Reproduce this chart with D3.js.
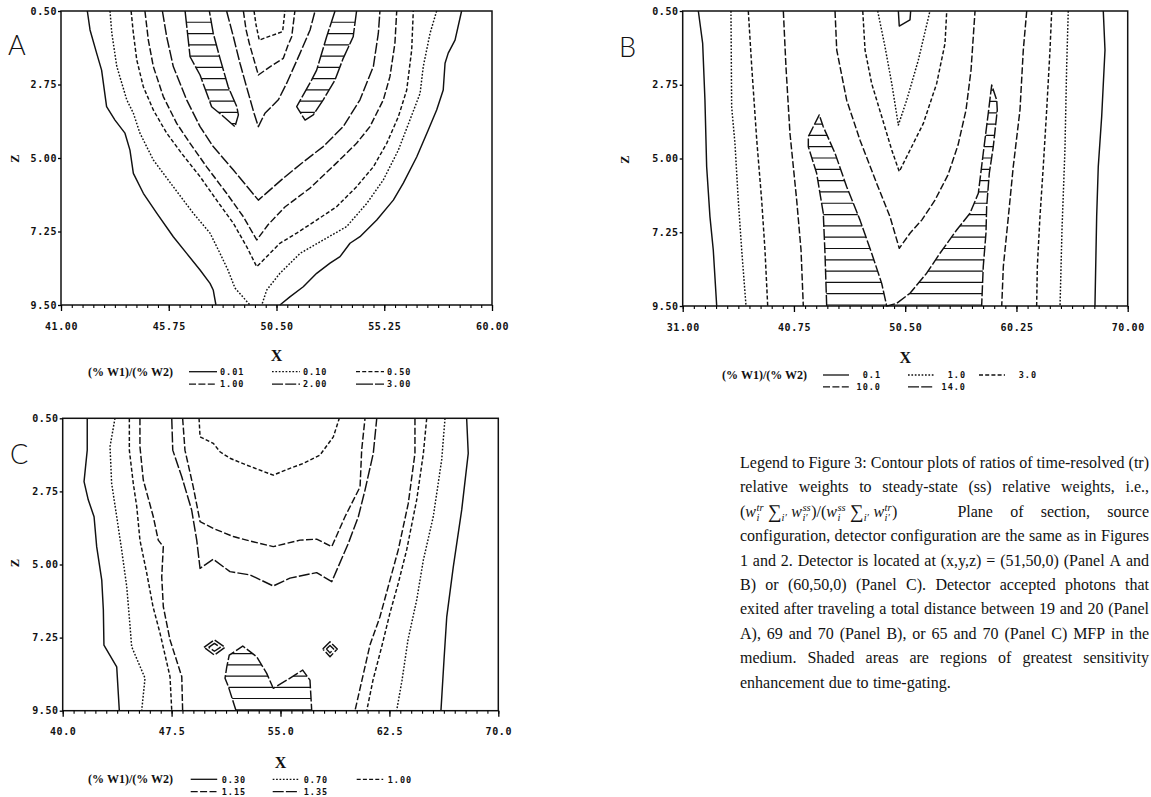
<!DOCTYPE html>
<html>
<head>
<meta charset="utf-8">
<title>Figure 3 - contour plots</title>
<script src="https://cdn.jsdelivr.net/npm/d3@7/dist/d3.min.js"></script>
<style>
  html, body { margin: 0; padding: 0; background: #fff; }
  svg { display: block; }
</style>
</head>
<body>
<svg id="fig" width="1151" height="797"></svg>
<script>
'use strict';

/* ── Tick values ──────────────────────────────────────────── */
const Z_TICKS   = [0.50, 2.75, 5.00, 7.25, 9.50];
const A_X_TICKS = [41.00, 45.75, 50.50, 55.25, 60.00];
const B_X_TICKS = [31.00, 40.75, 50.50, 60.25, 70.00];
const C_X_TICKS = [40.0, 47.5, 55.0, 62.5, 70.0];

/* ── Contour levels (legend order) ────────────────────────── */
const A_LEVELS = ['0.01', '0.10', '0.50', '1.00', '2.00', '3.00'];
const B_LEVELS = ['0.1', '1.0', '3.0', '10.0', '14.0'];
const C_LEVELS = ['0.30', '0.70', '1.00', '1.15', '1.35'];

/* ── Panel A contours, points are [x, z] ──────────────────── */
const A_CONTOURS = [
  { level: '0.01', pts: [[42.16,0.5],[42.28,1.08],[42.57,1.79],[42.79,2.31],[43.01,3.43],[43.38,3.84],[43.82,4.24],[44.04,4.76],[44.19,5.47],[44.63,6.08],[45.22,6.69],[45.95,7.41],[46.54,7.92],[47.13,8.43],[47.57,8.84],[47.71,9.04],[47.83,9.5]] },
  { level: '0.01', pts: [[58.66,0.5],[58.37,1.39],[58.07,1.79],[57.93,2.10],[57.85,2.92],[57.56,3.53],[57.19,4.14],[56.68,4.97],[56.09,5.77],[55.65,6.29],[54.92,6.90],[54.18,7.41],[53.74,7.61],[53.30,8.02],[52.86,8.22],[52.27,8.53],[51.68,8.94],[51.09,9.25],[50.65,9.5]] },
  { level: '0.10', pts: [[43.16,0.5],[43.24,1.18],[43.46,2.20],[43.90,3.22],[44.19,3.63],[44.48,4.24],[45.07,5.06],[45.95,5.88],[46.83,6.69],[47.57,7.30],[48.01,7.92],[48.36,8.43],[48.67,8.98],[49.33,9.5]] },
  { level: '0.10', pts: [[57.56,0.5],[57.27,1.18],[56.97,2.20],[56.83,3.02],[56.38,3.84],[55.87,4.76],[55.21,5.67],[54.48,6.39],[53.59,7.10],[52.56,7.51],[51.54,7.92],[50.65,8.53],[50.07,9.04],[49.85,9.5]] },
  { level: '0.50', pts: [[44.09,0.5],[44.19,1.18],[44.34,2.00],[44.63,2.82],[45.07,3.53],[45.66,4.24],[46.32,4.86],[47.13,5.57],[47.86,6.29],[48.60,7.00],[49.19,7.72],[49.63,8.33],[50.65,7.61],[51.39,7.30],[52.27,6.90],[53.15,6.49],[54.03,5.88],[54.77,5.27],[55.36,4.55],[55.87,3.74],[56.24,2.92],[56.46,1.69],[56.53,0.5]] },
  { level: '1.00', pts: [[44.70,0.5],[44.85,1.39],[45.07,2.20],[45.51,3.12],[46.10,3.94],[46.69,4.55],[47.42,5.27],[48.30,6.08],[49.04,6.80],[49.63,7.51],[50.12,7.05],[50.87,6.50],[51.98,5.92],[53.15,5.15],[54.03,4.55],[54.62,4.04],[55.21,3.22],[55.50,2.51],[55.72,1.49],[55.80,0.5]] },
  { level: '2.00', pts: [[45.47,0.5],[45.66,1.29],[45.95,2.20],[46.54,3.22],[47.13,4.04],[47.71,4.65],[48.60,5.37],[49.33,5.98],[49.70,6.29],[50.80,5.62],[51.61,5.16],[52.56,4.65],[53.44,4.04],[54.18,3.22],[54.77,2.20],[54.99,1.18],[55.06,0.5]] },
  { level: '2.00', pts: [[48.30,0.5],[48.60,1.29],[48.89,2.10],[49.26,3.02],[49.51,3.63],[49.70,4.04],[49.99,3.63],[50.58,3.22],[50.95,2.71],[51.54,1.79],[51.98,1.08],[52.20,0.5]] },
  { level: '1.00', pts: [[49.04,0.5],[49.16,1.08],[49.30,1.49],[49.51,2.00],[49.70,2.46],[50.21,2.21],[50.80,1.95],[51.01,1.54],[51.17,1.29],[51.31,0.5]] },
  { level: '0.50', pts: [[49.51,0.5],[49.60,0.93],[49.74,1.39],[50.21,1.27],[50.77,1.13],[50.87,0.5]] }
];
const A_SHADED = [
  [[46.47,0.5],[46.69,1.90],[47.13,2.46],[47.64,3.43],[48.08,3.68],[48.67,4.04],[48.82,3.68],[48.75,3.43],[48.37,2.82],[48.01,1.95],[47.71,1.18],[47.54,0.5]],
  [[53.08,0.5],[52.71,1.29],[52.27,2.31],[52.05,2.61],[51.39,3.43],[51.76,3.84],[52.12,3.68],[52.56,3.22],[53.08,2.61],[53.44,1.95],[53.88,1.29],[54.03,0.5]]
];

/* ── Panel B contours ─────────────────────────────────────── */
const B_CONTOURS = [
  { level: '0.1',  pts: [[32.37,0.5],[32.75,1.49],[32.95,3.22],[33.10,5.25],[33.39,6.78],[33.68,7.79],[33.98,9.5]] },
  { level: '1.0',  pts: [[35.23,0.5],[35.29,3.42],[35.58,4.54],[35.87,6.27],[36.17,7.79],[36.55,9.5]] },
  { level: '3.0',  pts: [[36.75,0.5],[37.05,2.20],[37.49,4.44],[37.92,6.27],[38.21,7.79],[38.45,9.5]] },
  { level: '10.0', pts: [[39.82,0.5],[40.05,2.20],[40.40,4.23],[40.99,6.27],[41.37,7.79],[41.57,9.5]] },
  { level: '10.0', pts: [[44.35,0.5],[44.50,1.69],[45.37,3.22],[46.54,4.44],[48.00,5.76],[49.17,6.78],[49.98,7.74],[50.92,7.28],[51.95,6.88],[53.11,6.27],[54.25,5.50],[55.13,4.59],[55.83,3.52],[56.27,2.30],[56.62,0.5]] },
  { level: '3.0',  pts: [[46.78,0.5],[46.98,1.69],[47.56,2.71],[48.44,3.72],[49.32,4.74],[49.98,5.40],[51.07,4.64],[52.09,3.93],[53.26,2.71],[53.99,1.49],[54.14,0.5]] },
  { level: '1.0',  pts: [[48.09,0.5],[48.73,1.59],[49.32,2.71],[49.90,3.98],[50.63,3.22],[51.65,2.00],[52.67,0.5]] },
  { level: '0.1',  pts: [[49.90,0.5],[49.98,0.96],[50.92,0.77],[50.98,0.5]] },
  { level: '10.0', pts: [[61.15,0.5],[60.85,1.69],[60.56,3.52],[59.97,5.25],[59.54,6.78],[59.10,8.30],[58.96,9.5]] },
  { level: '3.0',  pts: [[63.34,0.5],[63.19,1.69],[62.90,3.52],[62.60,5.25],[62.31,6.78],[62.08,8.30],[62.02,9.5]] },
  { level: '1.0',  pts: [[64.79,0.5],[64.65,2.20],[64.50,4.73],[64.24,7.18],[64.07,9.5]] },
  { level: '0.1',  pts: [[67.86,0.5],[68.01,1.69],[67.72,3.72],[67.42,5.25],[67.28,6.78],[67.13,9.5]] }
];
const B_SHADED = [
  [[43.62,9.5],[43.47,7.89],[43.32,6.67],[42.74,5.45],[42.01,4.64],[42.01,4.33],[42.97,3.67],[43.32,4.03],[44.35,4.84],[45.37,5.86],[46.54,6.88],[47.56,7.89],[48.44,8.81],[48.88,9.5],[49.75,9.42],[50.92,9.11],[52.38,8.50],[53.55,7.89],[55.01,7.18],[56.18,6.67],[56.91,6.06],[57.34,4.84],[57.78,3.62],[58.08,2.76],[58.52,3.22],[58.57,3.52],[58.22,4.64],[57.87,5.45],[57.64,6.47],[57.58,7.27],[57.34,8.30],[57.20,9.5]]
];

/* ── Panel C contours ─────────────────────────────────────── */
const C_CONTOURS = [
  { level: '0.30', pts: [[41.69,0.5],[41.69,1.48],[41.47,2.45],[41.76,3.01],[42.16,3.53],[42.34,4.45],[42.69,5.48],[42.80,6.40],[42.84,7.48],[43.72,8.15],[43.90,9.5]] },
  { level: '0.70', pts: [[43.60,0.5],[43.26,1.37],[43.37,2.50],[43.72,3.53],[44.06,4.55],[44.41,5.68],[44.64,6.91],[44.75,7.53],[45.67,8.50],[45.44,9.5]] },
  { level: '1.00', pts: [[44.59,0.5],[44.59,1.48],[44.86,2.50],[45.10,3.22],[45.32,4.25],[45.79,5.27],[46.22,6.30],[46.70,7.11],[47.39,8.45],[47.51,9.5]] },
  { level: '1.15', pts: [[45.32,0.5],[45.32,1.37],[45.55,2.40],[46.24,3.53],[46.58,4.25],[46.93,4.45],[46.82,5.38],[46.93,6.30],[47.39,7.32],[48.20,8.45],[48.26,9.5]] },
  { level: '1.35', pts: [[47.51,0.5],[47.58,1.48],[48.20,2.30],[48.88,3.32],[49.23,4.25],[49.46,5.12],[50.37,4.84],[51.52,5.22],[52.90,5.32],[54.50,5.66],[55.65,5.42],[57.49,5.25],[58.53,5.53],[59.67,4.35],[60.36,3.53],[60.82,2.71],[61.39,1.58],[61.63,0.5]] },
  { level: '1.15', pts: [[48.26,0.5],[48.42,1.48],[48.99,2.61],[49.46,3.68],[50.37,3.89],[51.75,4.14],[52.67,4.25],[54.50,4.45],[56.34,4.25],[57.49,4.22],[58.53,4.45],[59.44,3.53],[60.48,2.61],[60.59,1.48],[60.82,0.5]] },
  { level: '1.00', pts: [[49.39,0.5],[49.46,1.07],[50.37,1.27],[50.83,1.53],[51.52,1.73],[52.67,1.94],[54.50,2.25],[55.65,2.04],[56.57,1.89],[57.72,1.63],[58.64,1.07],[59.05,0.5]] },
  { level: '1.15', pts: [[64.26,0.5],[64.26,1.58],[63.80,3.12],[63.11,4.55],[62.54,5.48],[61.85,6.61],[61.16,7.48],[60.61,8.56],[60.13,9.5]] },
  { level: '1.00', pts: [[65.07,0.5],[64.84,1.58],[64.38,3.01],[63.69,4.55],[63.11,5.58],[62.54,6.49],[61.97,7.53],[61.37,8.56],[60.94,9.5]] },
  { level: '0.70', pts: [[66.33,0.5],[66.10,1.78],[65.52,3.53],[64.84,4.86],[64.38,6.09],[63.78,7.32],[63.37,8.56],[63.00,9.5]] },
  { level: '0.30', pts: [[67.82,0.5],[67.93,1.58],[67.48,3.32],[66.90,5.07],[66.45,6.61],[66.26,7.94],[66.05,9.5]] },
  { level: '1.35', pts: [[49.73,7.55],[50.45,7.32],[51.18,7.55],[50.45,7.79],[49.73,7.55]] },
  { level: '1.35', pts: [[50.05,7.55],[50.45,7.43],[50.85,7.55],[50.45,7.67],[50.05,7.55]] },
  { level: '1.35', pts: [[57.91,7.60],[58.41,7.38],[58.91,7.60],[58.41,7.84],[57.91,7.60]] },
  { level: '1.35', pts: [[58.16,7.60],[58.41,7.49],[58.66,7.60],[58.41,7.72],[58.16,7.60]] }
];
const C_SHADED = [
  [[51.94,9.5],[51.41,8.76],[51.18,8.50],[51.30,8.15],[51.47,7.79],[52.40,7.51],[53.36,7.84],[54.05,8.35],[54.50,8.81],[55.43,8.56],[56.53,8.25],[57.03,8.56],[57.15,9.5]]
];

/* ── Caption text ─────────────────────────────────────────── */
const CAPTION_LINES = [
  'Legend to Figure 3: Contour plots of ratios of time-resolved (tr)',
  'relative weights to steady-state (ss) relative weights, i.e.,',
  '{formula} Plane of section, source',
  'configuration, detector configuration are the same as in Figures',
  '1 and 2. Detector is located at (x,y,z) = (51,50,0) (Panel A and',
  'B) or (60,50,0) (Panel C). Detector accepted photons that',
  'exited after traveling a total distance between 19 and 20 (Panel',
  'A), 69 and 70 (Panel B), or 65 and 70 (Panel C) MFP in the',
  'medium. Shaded areas are regions of greatest sensitivity',
  'enhancement due to time-gating.'
];

/* ── Styles / layout ──────────────────────────────────────── */
const INK   = '#111';
const MONO  = "'DejaVu Sans Mono', 'Liberation Mono', monospace";
const SERIF = "'Liberation Serif', 'Times New Roman', serif";
const LIGHT = "Lato, 'Liberation Sans', sans-serif";
const LEVEL_DASH = ['none', '1.7,1.7', '4,2.2', '7,2.4', '11,2.2', '17,2'];
const HATCH_STEP = 0.345;
const LINE_W = 1.45;

const PANELS = [
  { key: 'A', xTicks: A_X_TICKS, xFmt: '.2f', levels: A_LEVELS, contours: A_CONTOURS, shaded: A_SHADED,
    box: { left: 61, right: 492, top: 11, bottom: 305 },
    letter: { x: 8, y: 55 }, zLab: { x: 15, y: 158.5 }, xLabY: 361,
    legend: { labelRight: 173, y0: 371.7, dy: 12.4, cols: [189, 272, 356], len: 28, textDx: 31, anchor: 'start' } },
  { key: 'B', xTicks: B_X_TICKS, xFmt: '.2f', levels: B_LEVELS, contours: B_CONTOURS, shaded: B_SHADED,
    box: { left: 682.7, right: 1127.7, top: 11, bottom: 306 },
    letter: { x: 619, y: 57 }, zLab: { x: 625, y: 159.5 }, xLabY: 363,
    legend: { labelRight: 807, y0: 375, dy: 11.8, cols: [823, 908, 979], len: 26, textDx: 58, anchor: 'end' } },
  { key: 'C', xTicks: C_X_TICKS, xFmt: '.1f', levels: C_LEVELS, contours: C_CONTOURS, shaded: C_SHADED,
    box: { left: 62.7, right: 498.3, top: 418.3, bottom: 710.7 },
    letter: { x: 10, y: 463.5 }, zLab: { x: 15, y: 563 }, xLabY: 768,
    legend: { labelRight: 173, y0: 779.3, dy: 12.4, cols: [190.7, 272.7, 356.7], len: 26.5, textDx: 31, anchor: 'start' } }
];

const CAP = { x0: 740, x1: 1149, y0: 468, dy: 24.4, size: 16, formulaGap: 60 };

const svg = d3.select('#fig');

/* ── One contour panel ────────────────────────────────────── */
function drawPanel(cfg) {
  const box = cfg.box;
  const x = d3.scaleLinear().domain(d3.extent(cfg.xTicks)).range([box.left, box.right]);
  const z = d3.scaleLinear().domain(d3.extent(Z_TICKS)).range([box.top, box.bottom]);
  const line = d3.line().x(d => x(d[0])).y(d => z(d[1]));
  const dashOf = lvl => LEVEL_DASH[cfg.levels.indexOf(lvl)];
  const topLevel = cfg.levels[cfg.levels.length - 1];

  const g = svg.append('g');

  /* shaded (hatched) regions */
  cfg.shaded.forEach((poly, i) => {
    const id = `hatch-${cfg.key}-${i}`;
    g.append('clipPath').attr('id', id)
      .append('path').attr('d', line(poly) + 'Z');
    const rows = d3.range(z.domain()[0] + HATCH_STEP, z.domain()[1] + 1e-6, HATCH_STEP);
    g.append('g').attr('clip-path', `url(#${id})`)
      .selectAll('line').data(rows).join('line')
      .attr('x1', box.left).attr('x2', box.right)
      .attr('y1', d => z(d)).attr('y2', d => z(d))
      .attr('stroke', INK).attr('stroke-width', 1.2);
    g.append('path').attr('d', line(poly))
      .attr('fill', 'none').attr('stroke', INK).attr('stroke-width', LINE_W)
      .attr('stroke-linejoin', 'round')
      .attr('stroke-dasharray', dashOf(topLevel));
  });

  /* contour lines */
  g.append('g').selectAll('path').data(cfg.contours).join('path')
    .attr('d', d => line(d.pts))
    .attr('fill', 'none').attr('stroke', INK).attr('stroke-width', LINE_W)
    .attr('stroke-linejoin', 'round')
    .attr('stroke-dasharray', d => dashOf(d.level));

  /* frame */
  g.append('rect')
    .attr('x', box.left).attr('y', box.top)
    .attr('width', box.right - box.left).attr('height', box.bottom - box.top)
    .attr('fill', 'none').attr('stroke', INK).attr('stroke-width', 1.5);

  /* x axis: minor ticks, then labelled majors */
  const major = cfg.xTicks[1] - cfg.xTicks[0];
  const minorTicks = d3.range(cfg.xTicks[0], cfg.xTicks[cfg.xTicks.length - 1] + 1e-6, major / 10);
  const minorG = g.append('g').attr('transform', `translate(0,${box.bottom})`)
    .call(d3.axisBottom(x).tickValues(minorTicks).tickSize(3).tickFormat(''));
  minorG.select('.domain').remove();
  minorG.selectAll('line').attr('stroke-width', 1.1);

  const xAxis = g.append('g').attr('transform', `translate(0,${box.bottom})`)
    .call(d3.axisBottom(x).tickValues(cfg.xTicks).tickSize(6).tickFormat(d3.format(cfg.xFmt)));
  xAxis.select('.domain').remove();
  xAxis.selectAll('line').attr('stroke-width', 1.3);
  xAxis.selectAll('text')
    .attr('y', 24.5).attr('dy', null)
    .attr('font-family', MONO).attr('font-weight', 'bold').attr('font-size', 10)
    .attr('letter-spacing', 0.6).attr('fill', INK);

  /* z axis */
  const zAxis = g.append('g').attr('transform', `translate(${box.left},0)`)
    .call(d3.axisLeft(z).tickValues(Z_TICKS).tickSize(3).tickPadding(1).tickFormat(d3.format('.2f')));
  zAxis.select('.domain').remove();
  zAxis.selectAll('line').attr('stroke-width', 1.3);
  zAxis.selectAll('text')
    .attr('font-family', MONO).attr('font-weight', 'bold').attr('font-size', 10)
    .attr('letter-spacing', 0.6).attr('fill', INK);

  /* panel letter and axis titles */
  g.append('text')
    .attr('x', cfg.letter.x).attr('y', cfg.letter.y)
    .attr('font-family', LIGHT).attr('font-weight', 300).attr('font-size', 27)
    .attr('fill', INK).text(cfg.key);

  g.append('text')
    .attr('transform', `translate(${cfg.zLab.x},${cfg.zLab.y}) rotate(-90)`)
    .attr('text-anchor', 'middle').attr('dy', '0.35em')
    .attr('font-family', SERIF).attr('font-weight', 'bold').attr('font-size', 12.5)
    .attr('fill', INK).text('Z');

  g.append('text')
    .attr('x', x(cfg.xTicks[2])).attr('y', cfg.xLabY)
    .attr('text-anchor', 'middle')
    .attr('font-family', SERIF).attr('font-weight', 'bold').attr('font-size', 16)
    .attr('fill', INK).text('X');

  /* legend */
  const L = cfg.legend;
  const lg = g.append('g');
  lg.append('text')
    .attr('x', L.labelRight).attr('y', L.y0 + 4)
    .attr('text-anchor', 'end')
    .attr('font-family', SERIF).attr('font-weight', 'bold').attr('font-size', 12)
    .attr('fill', INK).text('(% W1)/(% W2)');

  cfg.levels.forEach((lvl, i) => {
    const cx = L.cols[i % 3];
    const cy = L.y0 + Math.floor(i / 3) * L.dy;
    lg.append('line')
      .attr('x1', cx).attr('x2', cx + L.len).attr('y1', cy).attr('y2', cy)
      .attr('stroke', INK).attr('stroke-width', 1.3)
      .attr('stroke-dasharray', dashOf(lvl));
    lg.append('text')
      .attr('x', cx + L.textDx).attr('y', cy + 3.2)
      .attr('text-anchor', L.anchor)
      .attr('font-family', MONO).attr('font-weight', 'bold').attr('font-size', 8.5)
      .attr('letter-spacing', 1).attr('fill', INK).text(lvl);
  });
}

/* ── Caption formula (w_i^tr Σ w_i'^ss)/(w_i^ss Σ w_i'^tr) ── */
function drawFormula(g, x0, y) {
  const parts = [
    { t: '(' }, { t: 'w', it: true }, { sup: 'tr', sub: 'i' }, { gap: 4 },
    { t: '\u2211', big: true }, { sub: 'i\u2032' }, { gap: 4 },
    { t: 'w', it: true }, { sup: 'ss', sub: 'i\u2032' },
    { t: ')/(' }, { t: 'w', it: true }, { sup: 'ss', sub: 'i' }, { gap: 4 },
    { t: '\u2211', big: true }, { sub: 'i\u2032' }, { gap: 4 },
    { t: 'w', it: true }, { sup: 'tr', sub: 'i\u2032' }, { t: ')' }
  ];
  let x = x0;
  parts.forEach(p => {
    if (p.gap) { x += p.gap; return; }
    if (p.t) {
      const t = g.append('text').attr('x', x).attr('y', y + (p.big ? 1 : 0))
        .attr('font-size', p.big ? 19 : CAP.size)
        .attr('font-style', p.it ? 'italic' : null).text(p.t);
      x += t.node().getComputedTextLength() + (p.it ? 0.5 : 0);
      return;
    }
    let w = 0;
    if (p.sup) {
      const s = g.append('text').attr('x', x).attr('y', y - 6)
        .attr('font-size', 10.5).attr('font-style', 'italic').text(p.sup);
      w = Math.max(w, s.node().getComputedTextLength());
    }
    if (p.sub) {
      const s = g.append('text').attr('x', x).attr('y', y + 4)
        .attr('font-size', 10.5).attr('font-style', 'italic').text(p.sub);
      w = Math.max(w, s.node().getComputedTextLength());
    }
    x += w + 0.5;
  });
  return x;
}

/* ── Justified caption block ──────────────────────────────── */
function drawCaption() {
  const g = svg.append('g')
    .attr('font-family', SERIF).attr('font-size', CAP.size).attr('fill', INK);

  CAPTION_LINES.forEach((ln, i) => {
    const y = CAP.y0 + i * CAP.dy;
    const isLast = i === CAPTION_LINES.length - 1;
    let start = CAP.x0;
    let body = ln;
    if (ln.startsWith('{formula}')) {
      start = drawFormula(g, CAP.x0, y) + CAP.formulaGap;
      body = ln.replace('{formula}', '');
    }
    const words = body.trim().split(/\s+/);
    const texts = words.map(w => g.append('text').attr('y', y).text(w));
    const widths = texts.map(t => t.node().getComputedTextLength());
    const total = d3.sum(widths);
    const gap = (isLast || words.length < 2)
      ? CAP.size * 0.27
      : Math.max(2, (CAP.x1 - start - total) / (words.length - 1));
    let x = start;
    texts.forEach((t, k) => { t.attr('x', x); x += widths[k] + gap; });
  });
}

PANELS.forEach(drawPanel);
drawCaption();
</script>
</body>
</html>
